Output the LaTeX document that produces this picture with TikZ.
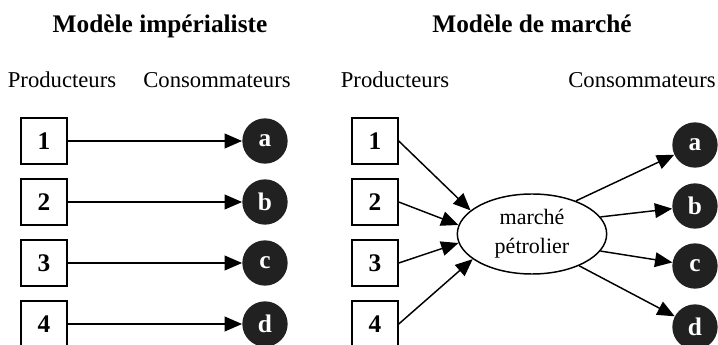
\documentclass[tikz,border=0pt]{standalone}
\usepackage{fontspec}
\setmainfont{Liberation Serif}
\usetikzlibrary{shapes.geometric,arrows.meta}

\begin{document}
\begin{tikzpicture}[x=0.75pt, y=-0.75pt,
        prod/.style={draw, line width=1.1pt, minimum size=34.5pt, inner sep=0, font=\fontsize{19}{22}\selectfont\bfseries},
        cons/.style={circle, fill=black!87, text=white, minimum size=34pt, inner sep=0, font=\fontsize{19}{22}\selectfont\bfseries},
        flux/.style={line width=1.1pt, -{Triangle[length=13pt, width=11pt]}},
        titre/.style={anchor=base, font=\fontsize{19}{22}\selectfont\bfseries},
        entete/.style={anchor=base, font=\fontsize{17}{20}\selectfont}]
    \useasboundingbox (0,0) rectangle (718,345);

    % modele imperialiste
    \node[titre] (T1) at (160,33) {Modèle impérialiste};
    \node[entete] (P1) at (62,88) {Producteurs};
    \node[entete] (C1) at (217,88) {Consommateurs};
    \node[prod] (A1) at (44,141) {1};
    \node[prod] (A2) at (44,202) {2};
    \node[prod] (A3) at (44,263) {3};
    \node[prod] (A4) at (44,324) {4};
    \node[cons] (Ba) at (265,141) {a};
    \node[cons] (Bb) at (265,202) {b};
    \node[cons] (Bc) at (265,263) {c};
    \node[cons] (Bd) at (265,324) {d};
    \draw[flux] (A1) -- (Ba);
    \draw[flux] (A2) -- (Bb);
    \draw[flux] (A3) -- (Bc);
    \draw[flux] (A4) -- (Bd);

    % modele de marche
    \node[titre] (T2) at (532,33) {Modèle de marché};
    \node[entete] (P2) at (395,88) {Producteurs};
    \node[entete] (C2) at (642,88) {Consommateurs};
    \node[prod] (D1) at (375,141) {1};
    \node[prod] (D2) at (375,202) {2};
    \node[prod] (D3) at (375,263) {3};
    \node[prod] (D4) at (375,324) {4};
    \node[ellipse, draw, line width=1.1pt, minimum width=112pt, minimum height=60pt, inner sep=0,
          align=center, font=\fontsize{16.5}{22}\selectfont] (M) at (532,234) {marché\\pétrolier};
    \node[cons] (Ea) at (695,145) {a};
    \node[cons] (Eb) at (695,206) {b};
    \node[cons] (Ec) at (695,266) {c};
    \node[cons] (Ed) at (695,327) {d};
    \draw[flux] (D1.east) -- (M.159);
    \draw[flux] (D2.east) -- (M.173);
    \draw[flux] (D3.east) -- (M.187);
    \draw[flux] (D4.east) -- (M.203);
    \draw[flux] (M.37) -- (Ea);
    \draw[flux] (M.14) -- (Eb);
    \draw[flux] (M.-14) -- (Ec);
    \draw[flux] (M.-34) -- (Ed);
\end{tikzpicture}
\end{document}
